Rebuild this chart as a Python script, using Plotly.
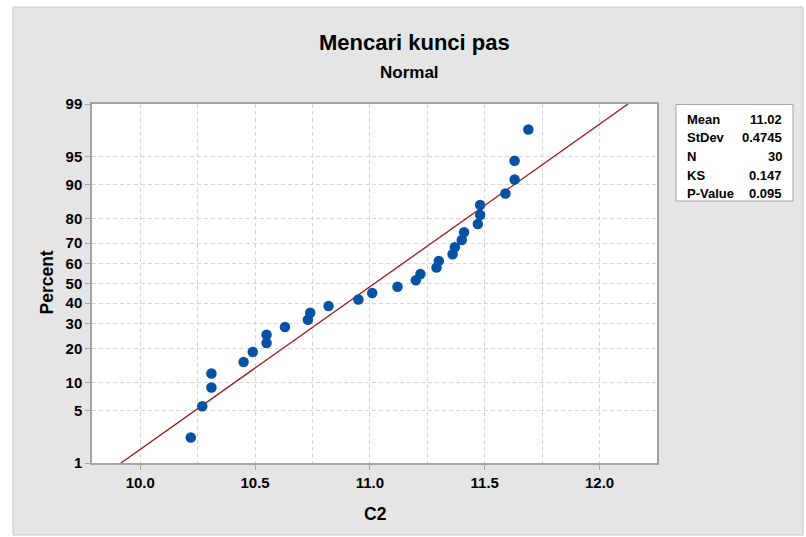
from statistics import NormalDist
import plotly.graph_objects as go

# ---------------- data ----------------
c2_values = [10.22, 10.27, 10.31, 10.31, 10.45, 10.49, 10.55, 10.55, 10.63, 10.73,
             10.74, 10.82, 10.95, 11.01, 11.12, 11.20, 11.22, 11.29, 11.30, 11.36,
             11.37, 11.40, 11.41, 11.47, 11.48, 11.48, 11.59, 11.63, 11.63, 11.69]
percent_ticks = [1, 5, 10, 20, 30, 40, 50, 60, 70, 80, 90, 95, 99]
x_ticks = [10.0, 10.5, 11.0, 11.5, 12.0]
stat_labels = ["Mean", "StDev", "N", "KS", "P-Value"]
stat_values = ["11.02", "0.4745", "30", "0.147", "0.095"]
mean_val = 11.02
sd_val = 0.4745

nd = NormalDist()
n = len(c2_values)
xs = sorted(c2_values)
# Benard median ranks -> normal scores
ys = [nd.inv_cdf((i + 1 - 0.3) / (n + 0.4)) for i in range(n)]

z_lo = nd.inv_cdf(0.01)
z_hi = nd.inv_cdf(0.99)
line_z = [z_lo, z_hi]
line_x = [mean_val + sd_val * z for z in line_z]

W, H = 806, 537
L, R, T, B = 92, 657, 104, 463  # plot area in px


def px(xp):
    return (xp - L) / (R - L)


def py(yp):
    return (B - yp) / (B - T)


FONT = "Liberation Sans, Arial, sans-serif"
GRID = "#d6d6d6"
AXC = "#a3a3a3"

fig = go.Figure()
fig.add_trace(go.Scatter(x=line_x, y=line_z, mode="lines",
                         line=dict(color="#a31515", width=1.3),
                         hoverinfo="skip", showlegend=False))
fig.add_trace(go.Scatter(x=xs, y=ys, mode="markers",
                         marker=dict(color="#0552a4", size=10.5),
                         showlegend=False))

fig.update_layout(
    width=W, height=H,
    margin=dict(l=L, r=W - R, t=T, b=H - B),
    paper_bgcolor="#e5e5e5",
    plot_bgcolor="white",
    font=dict(family=FONT, color="black"),
    showlegend=False,
)

fig.update_xaxes(
    range=[9.79, 12.25],
    tickvals=x_ticks,
    ticktext=[f"{v:.1f}" for v in x_ticks],
    tickfont=dict(size=15, weight="bold", family=FONT),
    showgrid=True, gridcolor=GRID, griddash="4px,3px", gridwidth=1,
    minor=dict(dtick=0.25, tick0=10.0, showgrid=True, gridcolor=GRID,
               griddash="4px,3px", gridwidth=1, ticks=""),
    ticks="outside", ticklen=5, tickcolor=AXC, tickwidth=1,
    showline=True, linecolor=AXC, linewidth=1.5, mirror=True,
    zeroline=False,
)
fig.update_yaxes(
    range=[z_lo, z_hi],
    tickvals=[nd.inv_cdf(p / 100) for p in percent_ticks],
    ticktext=[str(p) for p in percent_ticks],
    tickfont=dict(size=15, weight="bold", family=FONT),
    showgrid=True, gridcolor=GRID, griddash="4px,3px", gridwidth=1,
    ticks="outside", ticklen=5, tickcolor=AXC, tickwidth=1,
    showline=True, linecolor=AXC, linewidth=1.5, mirror=True,
    zeroline=False,
)

shapes = []
# white outer frame strips
for x0, y0, x1, y1 in [(0, 0, 13, H), (0, 0, W, 7), (803, 0, W, H), (0, 535, W, H)]:
    shapes.append(dict(type="rect", xref="paper", yref="paper",
                       x0=px(x0), x1=px(x1), y0=py(y0), y1=py(y1),
                       fillcolor="white", line=dict(width=0), layer="above"))
# gray border of panel
shapes.append(dict(type="rect", xref="paper", yref="paper",
                   x0=px(13), x1=px(803), y0=py(7), y1=py(535),
                   fillcolor="rgba(0,0,0,0)", line=dict(color="#c6c6c6", width=1)))
# stats box
shapes.append(dict(type="rect", xref="paper", yref="paper",
                   x0=px(676), x1=px(793), y0=py(104.5), y1=py(201),
                   fillcolor="white", line=dict(color="#a3a3a3", width=1)))

annotations = []
annotations.append(dict(text="<b>Mencari kunci pas</b>", xref="paper", yref="paper",
                        x=px(414), y=py(43), xanchor="center", yanchor="middle",
                        showarrow=False, font=dict(size=22, family=FONT)))
annotations.append(dict(text="<b>Normal</b>", xref="paper", yref="paper",
                        x=px(409.5), y=py(72), xanchor="center", yanchor="middle",
                        showarrow=False, font=dict(size=17, family=FONT)))
annotations.append(dict(text="<b>Percent</b>", xref="paper", yref="paper",
                        x=px(46.5), y=py(283), xanchor="center", yanchor="middle",
                        textangle=-90, showarrow=False, font=dict(size=17.5, family=FONT)))
annotations.append(dict(text="<b>C2</b>", xref="paper", yref="paper",
                        x=px(375), y=py(514), xanchor="center", yanchor="middle",
                        showarrow=False, font=dict(size=17.5, family=FONT)))
row_y = [119, 137, 156, 175, 193.5]
for lab, val, yy in zip(stat_labels, stat_values, row_y):
    annotations.append(dict(text=f"<b>{lab}</b>", xref="paper", yref="paper",
                            x=px(685), y=py(yy), xanchor="left", yanchor="middle",
                            showarrow=False, font=dict(size=13, family=FONT)))
    annotations.append(dict(text=f"<b>{val}</b>", xref="paper", yref="paper",
                            x=px(784), y=py(yy), xanchor="right", yanchor="middle",
                            showarrow=False, font=dict(size=13, family=FONT)))

fig.update_layout(shapes=shapes, annotations=annotations)
fig.write_html("out.html")
